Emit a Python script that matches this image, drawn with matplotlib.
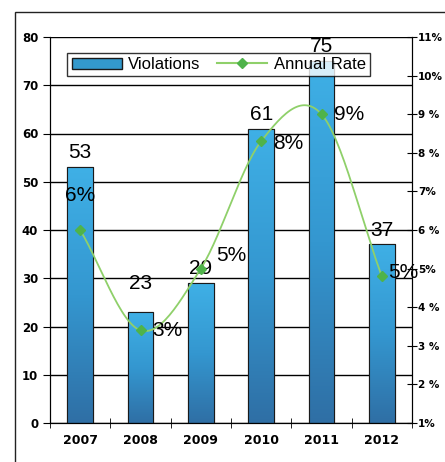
import numpy as np
import matplotlib.pyplot as plt
from matplotlib.patches import Rectangle
from matplotlib.lines import Line2D

years = ['2007', '2008', '2009', '2010', '2011', '2012']
violations = [53, 23, 29, 61, 75, 37]
rate = [6.0, 3.4, 5.0, 8.3, 9.0, 4.8]
rate_labels = ['6%', '3%', '5%', '8%', '9%', '5%']
left_ticks = [0, 10, 20, 30, 40, 50, 60, 70, 80]
right_ticks = [1, 2, 3, 4, 5, 6, 7, 8, 9, 10, 11]
right_tick_labels = ['1%', '2 %', '3 %', '4 %', '5%', '6 %', '7%', '8 %', '9 %',
                     '10%', '11%']

plt.rcParams['font.family'] = ['Liberation Sans Narrow', 'Liberation Sans',
                               'DejaVu Sans']


def catmull_rom(xs, ys, n=30):
    # smooth curve through the points, like the Excel "smoothed line"
    px = np.concatenate([[2 * xs[0] - xs[1]], xs, [2 * xs[-1] - xs[-2]]])
    py = np.concatenate([[2 * ys[0] - ys[1]], ys, [2 * ys[-1] - ys[-2]]])
    out_x, out_y = [], []
    t = np.linspace(0, 1, n)
    for i in range(1, len(px) - 2):
        for p, out in ((px, out_x), (py, out_y)):
            p0, p1, p2, p3 = p[i - 1], p[i], p[i + 1], p[i + 2]
            out.extend(0.5 * (2 * p1 + (-p0 + p2) * t
                              + (2 * p0 - 5 * p1 + 4 * p2 - p3) * t ** 2
                              + (-p0 + 3 * p1 - 3 * p2 + p3) * t ** 3))
    return np.array(out_x), np.array(out_y)


fig = plt.figure(figsize=(4.45, 4.62), dpi=100)
ax = fig.add_axes([50 / 445, (462 - 423) / 462, 362 / 445, 386 / 462])

# outer frame of the picture
fig.patches.append(Rectangle((15 / 445, -0.01), 1.0, (462 - 12) / 462 + 0.01,
                             transform=fig.transFigure, fill=False,
                             edgecolor='#222222', linewidth=1.0))

x = np.arange(len(years))
ax.set_ylim(0, 80)
ax.set_yticks(left_ticks)
ax.yaxis.grid(True, color='black', linewidth=1.0)
ax.set_axisbelow(True)

bars = ax.bar(x, violations, width=0.42, color='#3399cc', edgecolor='#1a1a1a',
              linewidth=0.8, zorder=2)
grad = np.linspace(0, 1, 256).reshape(-1, 1)
cmap = plt.matplotlib.colors.LinearSegmentedColormap.from_list(
    'bluegrad', ['#2f6fa5', '#3497d0', '#3fb0e6'])
for b in bars:
    im = ax.imshow(grad, cmap=cmap, aspect='auto', origin='lower',
                   extent=[b.get_x(), b.get_x() + b.get_width(), 0,
                           b.get_height()], zorder=2.5)
    im.set_clip_path(b)
    ax.add_patch(Rectangle((b.get_x(), 0), b.get_width(), b.get_height(),
                           fill=False, edgecolor='#1a1a1a', linewidth=0.8,
                           zorder=3))
ax.set_xlim(-0.5, len(years) - 0.5)
ax.set_ylim(0, 80)

ax.set_xticks(x)
ax.set_xticklabels(years, fontsize=9, fontweight='bold', family='DejaVu Sans')
ax.set_xticks(np.arange(-0.5, len(years)), minor=True)
ax.tick_params(axis='x', which='major', length=0, pad=8)
ax.tick_params(axis='x', which='minor', length=7, direction='inout')
ax.tick_params(axis='y', length=5, direction='out')
for lab in ax.get_yticklabels():
    lab.set_fontsize(8.5)
    lab.set_fontweight('bold')
    lab.set_family('DejaVu Sans')
ax.spines['top'].set_visible(False)

ax2 = ax.twinx()
ax2.set_ylim(1, 11)
ax2.set_yticks(right_ticks)
ax2.set_yticklabels(right_tick_labels, fontsize=7.5, fontweight='bold',
                    family='DejaVu Sans')
ax2.tick_params(axis='y', length=7, direction='inout', pad=1)
ax2.spines['top'].set_visible(False)

sx, sy = catmull_rom(x.astype(float), np.array(rate))
ax2.plot(sx, sy, color='#8fd06a', linewidth=1.3, zorder=4)
ax2.plot(x, rate, linestyle='none', marker='D', markersize=5,
         color='#4fb34a', zorder=5)

# data labels
bar_lab_pos = [(0, 56), (1, 29), (2, 32), (3, 64), (4, 78), (5, 40)]
for (i, yv), v in zip(bar_lab_pos, violations):
    ax.text(i, yv, str(v), ha='center', va='center', fontsize=15, zorder=6)
rate_lab_pos = [(0, 6.9), (1.45, 3.4), (2.5, 5.35), (3.45, 8.25),
                (4.45, 9.0), (5.35, 4.9)]
for (xi, yv), lab in zip(rate_lab_pos, rate_labels):
    ax2.text(xi, yv, lab, ha='center', va='center', fontsize=15, zorder=6)

handles = [Rectangle((0, 0), 1, 1, facecolor='#3399cc', edgecolor='#1a1a1a'),
           Line2D([], [], color='#8fd06a', marker='D', markersize=5,
                  markerfacecolor='#4fb34a', markeredgecolor='#4fb34a')]
leg = ax2.legend(handles, ['Violations', 'Annual Rate'], loc='upper left',
                 bbox_to_anchor=(0.025, 0.98), ncol=2, frameon=True,
                 fancybox=False, edgecolor='black', fontsize=12,
                 handlelength=3.0, handleheight=0.7, columnspacing=1.0,
                 borderpad=0.25, handletextpad=0.4)
leg.get_frame().set_linewidth(1.0)
leg.set_zorder(5.5)

fig.savefig('out.png', dpi=100)
